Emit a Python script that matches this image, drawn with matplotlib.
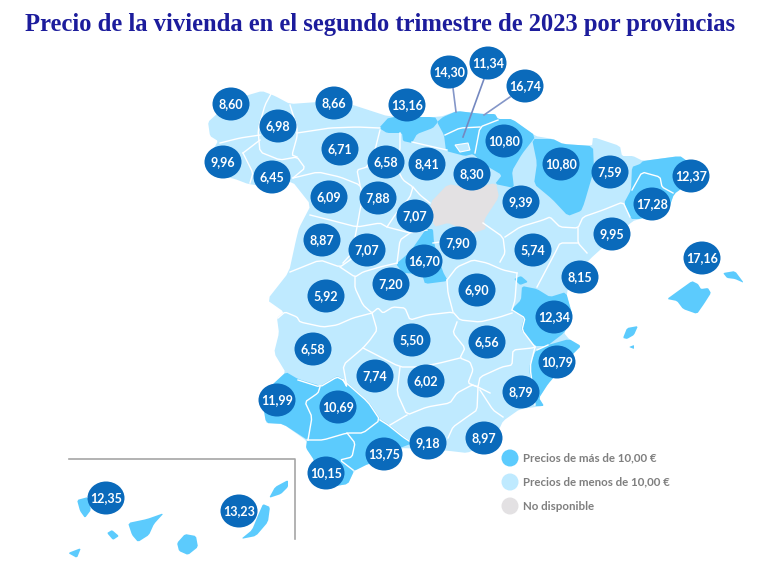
import matplotlib
matplotlib.use("Agg")
import matplotlib.pyplot as plt
from matplotlib.patches import Polygon, Ellipse

# values shown in the bubbles
values = ["8,60", "6,98", "8,66", "13,16", "14,30", "11,34", "16,74", "6,71", "6,58", "8,41",
          "9,96", "6,45", "6,09", "7,88", "7,07", "8,30", "10,80", "10,80", "7,59", "12,37",
          "17,28", "9,39", "9,95", "8,87", "7,07", "16,70", "7,90", "5,74", "17,16", "8,15",
          "7,20", "5,92", "6,90", "12,34", "5,50", "6,56", "6,58", "10,79", "7,74", "6,02",
          "8,79", "11,99", "10,69", "9,18", "8,97", "13,75", "10,15", "12,35", "13,23"]

legend_labels = ["Precios de más de 10,00 €", "Precios de menos de 10,00 €", "No disponible"]
title = "Precio de la vivienda en el segundo trimestre de 2023 por provincias"

# bubble centres, in picture pixels, same order as values
bubble_x = [231, 278, 334, 407, 449, 488, 525, 340, 386, 427, 223, 272, 329, 378, 415, 472, 504, 561, 610, 691,
            652, 521, 612, 322, 367, 424, 458, 533, 702, 580, 391, 326, 477, 554, 412, 487, 313, 557, 375, 426,
            521, 277, 338, 428, 484, 384, 326, 106, 239]
bubble_y = [104, 126, 103, 105, 72, 63, 86, 149, 162, 164, 162, 177, 197, 198, 216, 174, 141, 164, 172, 176,
            204, 202, 234, 240, 250, 261, 243, 250, 258, 277, 284, 296, 290, 317, 340, 342, 349, 362, 376, 381,
            392, 400, 407, 443, 438, 454, 473, 498, 511]

DARK = "#5ccbfd"
LIGHT = "#bfeaff"
GREY = "#e3e1e3"
BUBBLE = "#0a6abb"

# map shapes, traced in picture pixels
peninsula = [(208, 122), (218, 113), (228, 108), (245, 96), (262, 91), (275, 96), (290, 104), (318, 102), (350, 104),
             (390, 117), (440, 117), (457, 111), (483, 114), (495, 114), (498, 119), (512, 119), (535, 136),
             (553, 139), (563, 144), (592, 146), (593, 137), (620, 146), (622, 156), (633, 156), (643, 161),
             (680, 156), (687, 161), (694, 173), (688, 184), (674, 194), (668, 211), (640, 219), (633, 221),
             (610, 241), (590, 259), (578, 273), (566, 293), (573, 317), (564, 333), (569, 339), (581, 346),
             (573, 354), (561, 369), (548, 384), (539, 398), (544, 406), (520, 409), (503, 421), (497, 434),
             (483, 446), (467, 453), (450, 451), (428, 449), (400, 448), (383, 461), (368, 464), (354, 471),
             (348, 484), (330, 487), (319, 485), (314, 460), (306, 448), (307, 441), (283, 424), (266, 423),
             (266, 417), (262, 400), (272, 385), (286, 373), (274, 353), (279, 333), (277, 318), (284, 312),
             (267, 300), (289, 272), (296, 240), (299, 228), (311, 205), (292, 181), (270, 187), (248, 184),
             (235, 179), (221, 176), (213, 150), (218, 141), (210, 136)]
cantabria = [(379, 128), (389, 117), (435, 117), (438, 122), (433, 128), (417, 134), (412, 143), (403, 141),
             (402, 133), (387, 133)]
basque_navarra = [(437, 122), (443, 117), (457, 111), (483, 114), (495, 114), (498, 119), (512, 119), (536, 136),
                  (522, 154), (512, 171), (514, 188), (495, 184), (502, 175), (485, 165), (473, 154), (465, 156),
                  (446, 151), (444, 135)]
huesca = [(532, 139), (553, 139), (563, 144), (593, 146), (594, 170), (584, 204), (581, 211), (568, 216),
          (552, 199), (534, 184), (537, 163)]
catalonia = [(632, 167), (640, 164), (643, 161), (680, 156), (687, 161), (694, 173), (688, 184), (674, 194),
             (668, 211), (640, 219), (631, 219), (624, 203), (631, 190)]
madrid = [(396, 264), (410, 252), (426, 229), (433, 229), (434, 243), (443, 272), (448, 281), (425, 284),
          (422, 274), (403, 273)]
valencia = [(511, 310), (521, 300), (522, 286), (537, 289), (550, 297), (566, 292), (573, 317), (564, 333),
            (547, 346), (535, 346), (521, 330), (524, 318)]
ademuz = [(514, 279), (521, 276), (528, 282), (520, 285)]
alicante = [(548, 345), (569, 339), (581, 346), (573, 354), (561, 369), (548, 384), (539, 398), (544, 406),
            (534, 406), (529, 367), (536, 350)]
huelva = [(286, 372), (298, 379), (321, 386), (319, 393), (306, 402), (313, 417), (309, 441), (283, 424),
          (266, 423), (262, 400), (272, 385)]
sevilla = [(320, 386), (337, 376), (343, 379), (369, 402), (381, 420), (363, 434), (347, 434), (323, 441),
           (307, 441), (311, 417), (304, 402), (317, 393)]
cadiz = [(307, 440), (323, 440), (347, 433), (356, 443), (353, 458), (341, 460), (354, 471), (348, 484),
         (330, 487), (319, 485), (314, 460), (306, 448)]
malaga = [(380, 419), (388, 424), (403, 436), (413, 443), (400, 448), (383, 461), (368, 464), (354, 471),
          (340, 460), (352, 457), (355, 443), (347, 433), (363, 433)]
mallorca = [(667, 299), (678, 291), (692, 281), (698, 284), (701, 289), (708, 288), (711, 293), (704, 304),
            (697, 314), (683, 309), (677, 301)]
menorca = [(723, 273), (735, 271), (744, 283), (735, 279), (727, 278)]
ibiza = [(623, 338), (627, 328), (638, 326), (634, 335), (627, 339)]
formentera = [(629, 347), (634, 345), (634, 349)]
la_palma = [(77, 500), (88, 497), (91, 510), (85, 518), (80, 511)]
tenerife = [(128, 523), (147, 519), (164, 513), (154, 524), (149, 535), (138, 542), (132, 535)]
gomera = [(107, 533), (112, 530), (119, 536), (113, 540)]
hierro = [(68, 553), (81, 548), (77, 558)]
gran_canaria = [(177, 543), (185, 534), (196, 536), (198, 547), (188, 555), (179, 551)]
fuerteventura = [(263, 504), (270, 507), (268, 522), (256, 536), (241, 539), (252, 530), (259, 513)]
lanzarote = [(269, 498), (275, 487), (288, 480), (288, 487), (281, 494)]
grey_area = [(430, 203), (448, 184), (470, 188), (496, 183), (499, 197), (484, 220), (486, 229), (473, 233),
             (460, 228), (448, 223), (434, 227)]
trevino = [(455, 145), (468, 143), (470, 150), (460, 152)]

dark_shapes = [cantabria, basque_navarra, huesca, catalonia, madrid, valencia, ademuz, alicante, huelva, sevilla,
               cadiz, malaga, mallorca, menorca, ibiza, formentera, la_palma, tenerife, gomera, hierro,
               gran_canaria, fuerteventura, lanzarote]

# white province borders
borders = [
    [(272, 92), (265, 105), (258, 130), (260, 152), (280, 160), (297, 157), (305, 168), (293, 178)],
    [(220, 143), (240, 138), (260, 135)],
    [(243, 153), (260, 140)], [(243, 153), (253, 173), (250, 183)],
    [(290, 105), (297, 127), (297, 137), (292, 155), (297, 157)],
    [(297, 133), (317, 130), (330, 128), (357, 127), (380, 128)],
    [(380, 130), (375, 150), (367, 167), (357, 170), (360, 185)],
    [(293, 178), (318, 172), (340, 177), (360, 185), (363, 197), (360, 210), (357, 227), (352, 253), (343, 263)],
    [(400, 133), (400, 150), (395, 165), (367, 167)],
    [(395, 165), (403, 180), (413, 187), (410, 197), (395, 215), (387, 227)],
    [(412, 142), (425, 145), (447, 150)], [(430, 203), (420, 195), (413, 187)],
    [(310, 215), (330, 220), (357, 227), (380, 223), (387, 227), (410, 233), (427, 230)],
    [(410, 233), (400, 240), (397, 263)],
    [(290, 272), (320, 260), (340, 267), (350, 260), (357, 253)],
    [(340, 267), (355, 277), (363, 272), (380, 267), (397, 263)],
    [(355, 277), (355, 288), (363, 305), (372, 313), (378, 308), (383, 313), (393, 307), (405, 308), (410, 320),
     (427, 315), (453, 312), (460, 320), (480, 322), (500, 317), (512, 313)],
    [(278, 318), (285, 312), (297, 317), (300, 322), (323, 327), (337, 325), (353, 318), (372, 313)],
    [(447, 280), (448, 293), (453, 312)],
    [(447, 280), (457, 267), (473, 260), (487, 263), (503, 270), (517, 273)],
    [(433, 243), (455, 240), (473, 232)],
    [(483, 223), (503, 237), (505, 253), (500, 262)],
    [(505, 237), (520, 227), (543, 220), (550, 217), (560, 227), (578, 228), (583, 217), (603, 210), (623, 202),
     (630, 217)],
    [(578, 228), (578, 243), (587, 253)], [(578, 243), (560, 243), (555, 253), (537, 287)],
    [(517, 273), (515, 300), (512, 310)],
    [(372, 313), (377, 330), (370, 340), (363, 348), (343, 365), (347, 387), (343, 380)],
    [(298, 380), (320, 387), (337, 377), (343, 380)],
    [(363, 348), (400, 367), (420, 367), (440, 363), (460, 358)],
    [(400, 367), (397, 393), (407, 415), (427, 407), (450, 403), (457, 393), (472, 385), (478, 387), (490, 393)],
    [(407, 415), (390, 425)],
    [(478, 387), (477, 410), (467, 417), (453, 427), (448, 438)],
    [(480, 390), (493, 410), (503, 417)],
    [(457, 322), (453, 333), (465, 348), (460, 358), (470, 362), (473, 370), (468, 383), (478, 387), (480, 377),
     (502, 367), (512, 365), (513, 350), (532, 348), (535, 347)],
    [(535, 347), (522, 330), (525, 318), (512, 310)],
    [(535, 347), (530, 367), (535, 405)], [(548, 345), (537, 350)],
    [(308, 440), (312, 417), (305, 402), (318, 393), (320, 387)],
    [(343, 380), (368, 402), (380, 420), (363, 433), (347, 433), (323, 440), (308, 440)],
    [(347, 433), (355, 443), (352, 457), (340, 460), (353, 470)],
    [(380, 420), (388, 425), (403, 437), (412, 443)],
    [(632, 190), (642, 172), (660, 177), (662, 187), (673, 193)],
    [(445, 135), (460, 128), (480, 127)], [(475, 153), (480, 127), (498, 120)],
]


def smooth(points, closed=True, cut=0.12):
    # corner cutting, so the traced shapes look less angular
    out = []
    n = len(points)
    for i in range(n if closed else n - 1):
        x0, y0 = points[i]
        x1, y1 = points[(i + 1) % n]
        out.append(((1 - cut) * x0 + cut * x1, (1 - cut) * y0 + cut * y1))
        out.append((cut * x0 + (1 - cut) * x1, cut * y0 + (1 - cut) * y1))
    if not closed:
        out = [points[0]] + out + [points[-1]]
    return out


plt.rcParams["font.family"] = ["Lato", "DejaVu Sans"]
fig = plt.figure(figsize=(7.68, 5.86), dpi=100)
ax = fig.add_axes([0, 0, 1, 1])
ax.set_xlim(0, 768)
ax.set_ylim(586, 0)
ax.axis("off")

ax.add_patch(Polygon(smooth(peninsula), closed=True, fc=LIGHT, ec="none", zorder=1))
for shape in dark_shapes:
    ax.add_patch(Polygon(smooth(shape), closed=True, fc=DARK, ec="none", zorder=2))
ax.add_patch(Polygon(smooth(grey_area), closed=True, fc=GREY, ec="none", zorder=2))
ax.add_patch(Polygon(trevino, closed=True, fc=LIGHT, ec="white", lw=0.8, zorder=3))

for line in borders:
    xs, ys = zip(*smooth(line, closed=False))
    ax.plot(xs, ys, color="white", lw=1.0, zorder=3, solid_joinstyle="round")

# leader lines for the small Basque provinces
ax.plot([453, 456], [88, 112], color="#8496c8", lw=1.2, zorder=4)
ax.plot([484, 463], [79, 137], color="#7488c0", lw=1.2, zorder=4)
ax.plot([510, 484], [97, 115], color="#8496c8", lw=1.2, zorder=4)

# Canary Islands box
ax.plot([69, 295, 295], [459, 459, 539], color="#a6a6a6", lw=1.2, zorder=1)

for x, y, val in zip(bubble_x, bubble_y, values):
    ax.add_patch(Ellipse((x, y), 37, 33, fc=BUBBLE, ec="none", zorder=5))
    ax.text(x, y, val, color="white", fontsize=9.0, fontweight="bold", ha="center", va="center", zorder=6)

ax.text(380, 25, title, family="Liberation Serif", fontsize=17.75, fontweight="bold", color="#1c1c9c",
        ha="center", va="center")

legend_colors = [DARK, LIGHT, GREY]
legend_y = [458, 482, 506]
for color, y, label in zip(legend_colors, legend_y, legend_labels):
    ax.add_patch(Ellipse((510, y), 17, 17, fc=color, ec="none", zorder=5))
    ax.text(523, y, label, color="#7f7f7f", fontsize=8.3, fontweight="bold", va="center")

fig.savefig("out.png", dpi=100)
